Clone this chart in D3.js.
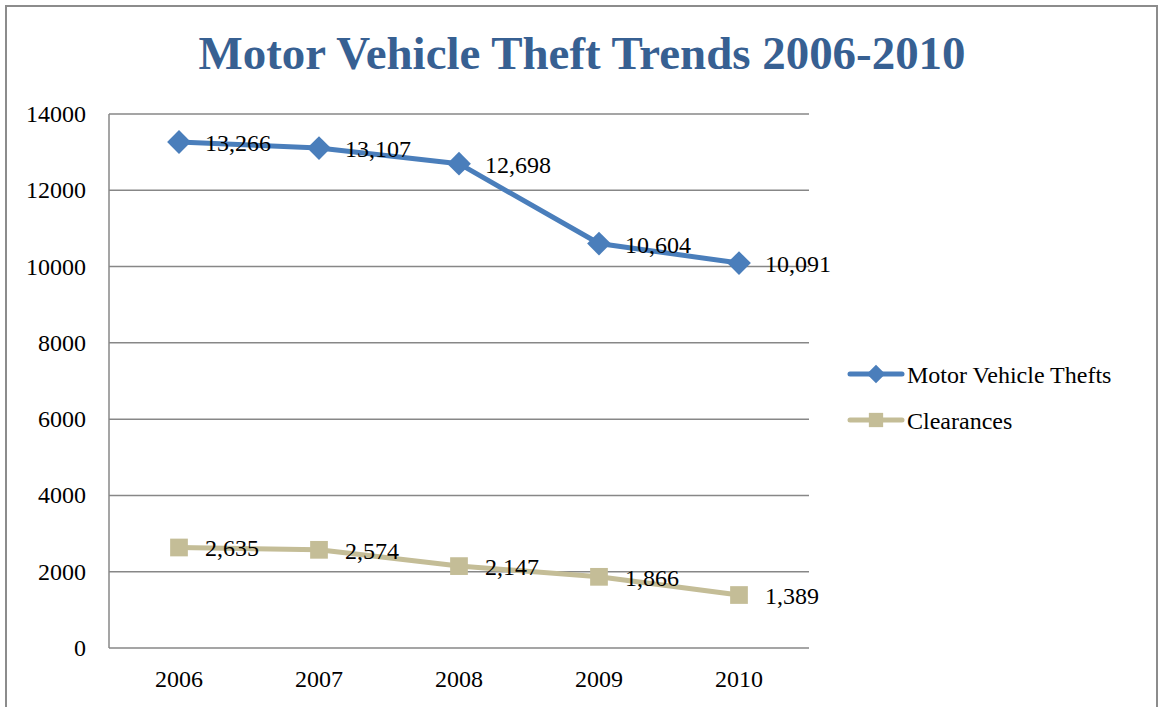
<!DOCTYPE html>
<html lang="en">
<head>
    <meta charset="UTF-8">
    <script src="https://cdn.jsdelivr.net/npm/d3@7"></script>
    <title>Motor Vehicle Theft Trends</title>
    <style>
        body { margin: 0; background: white; }
        text { font-family: "Liberation Serif", "DejaVu Serif", serif; }
    </style>
</head>
<body>
    <div id="chart"></div>
    <script>
        // ---------- data ----------
        const years = ["2006", "2007", "2008", "2009", "2010"];
        const thefts = [13266, 13107, 12698, 10604, 10091];
        const clearances = [2635, 2574, 2147, 1866, 1389];
        const yTicks = [0, 2000, 4000, 6000, 8000, 10000, 12000, 14000];
        const seriesNames = ["Motor Vehicle Thefts", "Clearances"];

        const width = 1159, height = 707;
        const plot = { left: 109, right: 809, top: 114, bottom: 648 };

        const svg = d3.select("#chart").append("svg")
            .attr("width", width)
            .attr("height", height);

        // outer chart border
        svg.append("rect")
            .attr("x", 6).attr("y", 6)
            .attr("width", 1151).attr("height", 720)
            .attr("fill", "white")
            .attr("stroke", "#8c8c8c")
            .attr("stroke-width", 2);

        // title
        svg.append("text")
            .attr("x", 582).attr("y", 69)
            .attr("text-anchor", "middle")
            .attr("font-size", 46)
            .attr("font-weight", "bold")
            .attr("fill", "#376092")
            .attr("textLength", 767)
            .attr("lengthAdjust", "spacingAndGlyphs")
            .text("Motor Vehicle Theft Trends 2006-2010");

        // scales
        const x = d3.scalePoint().domain(years)
            .range([plot.left, plot.right]).padding(0.5);
        const y = d3.scaleLinear().domain([0, 14000])
            .range([plot.bottom, plot.top]);

        // gridlines
        svg.append("g").selectAll("line")
            .data(yTicks)
            .enter().append("line")
            .attr("x1", plot.left).attr("x2", plot.right)
            .attr("y1", d => y(d)).attr("y2", d => y(d))
            .attr("stroke", "#878787")
            .attr("stroke-width", 1.5);

        // left axis line
        svg.append("line")
            .attr("x1", plot.left).attr("x2", plot.left)
            .attr("y1", plot.top).attr("y2", plot.bottom)
            .attr("stroke", "#878787")
            .attr("stroke-width", 1.5);

        // y tick labels
        svg.append("g").selectAll("text")
            .data(yTicks)
            .enter().append("text")
            .attr("x", 86)
            .attr("y", d => y(d) + 8)
            .attr("text-anchor", "end")
            .attr("font-size", 24)
            .attr("fill", "#000")
            .text(d => d);

        // x tick labels
        svg.append("g").selectAll("text")
            .data(years)
            .enter().append("text")
            .attr("x", d => x(d))
            .attr("y", 687)
            .attr("text-anchor", "middle")
            .attr("font-size", 24)
            .attr("fill", "#000")
            .text(d => d);

        const series = [
            { name: seriesNames[0], values: thefts, color: "#4a7ebb", marker: d3.symbolDiamond2 },
            { name: seriesNames[1], values: clearances, color: "#c4bd97", marker: d3.symbolSquare2 }
        ];

        const line = d3.line()
            .x((d, i) => x(years[i]))
            .y(d => y(d));

        const fmt = d3.format(",");

        series.forEach((s, si) => {
            svg.append("path")
                .datum(s.values)
                .attr("d", line)
                .attr("fill", "none")
                .attr("stroke", s.color)
                .attr("stroke-width", 5)
                .attr("stroke-linejoin", "round")
                .attr("stroke-linecap", "round");

            const sym = d3.symbol().type(s.marker).size(si === 0 ? 360 : 400);
            svg.append("g").selectAll("path")
                .data(s.values)
                .enter().append("path")
                .attr("d", sym)
                .attr("transform", (d, i) => `translate(${x(years[i])},${y(d)})`)
                .attr("fill", s.color)
                .attr("stroke", "none");

            svg.append("g").selectAll("text")
                .data(s.values)
                .enter().append("text")
                .attr("x", (d, i) => x(years[i]) + 26)
                .attr("y", d => y(d) + 9)
                .attr("font-size", 24)
                .attr("fill", "#000")
                .text(d => fmt(d));

            // legend
            const ly = 374 + si * 46;
            const lg = svg.append("g");
            lg.append("line")
                .attr("x1", 850).attr("x2", 902)
                .attr("y1", ly).attr("y2", ly)
                .attr("stroke", s.color)
                .attr("stroke-width", 5)
                .attr("stroke-linecap", "round");
            lg.append("path")
                .attr("d", d3.symbol().type(s.marker).size(si === 0 ? 220 : 260)())
                .attr("transform", `translate(876,${ly})`)
                .attr("fill", s.color);
            lg.append("text")
                .attr("x", 907)
                .attr("y", ly + 9)
                .attr("font-size", 24)
                .attr("fill", "#000")
                .text(s.name);
        });
    </script>
</body>
</html>
